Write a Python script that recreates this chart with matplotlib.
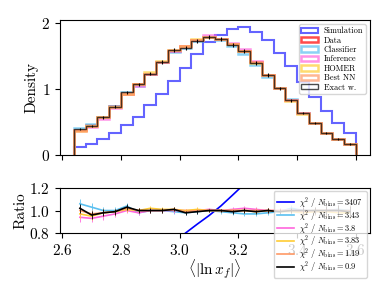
import numpy as np
import matplotlib
matplotlib.use("Agg")
import matplotlib.pyplot as plt

plt.rcParams["font.family"] = ["cmr10", "DejaVu Serif"]
plt.rcParams["mathtext.fontset"] = "cm"
plt.rcParams["axes.formatter.use_mathtext"] = True

# bin edges of <|ln x_f|>
edges = np.linspace(2.64, 3.60, 25)
centers = 0.5 * (edges[1:] + edges[:-1])

# densities
data = [0.38, 0.46, 0.58, 0.74, 0.92, 1.07, 1.23, 1.41, 1.57, 1.65, 1.74, 1.79,
        1.75, 1.68, 1.57, 1.41, 1.21, 1.02, 0.83, 0.64, 0.49, 0.33, 0.24, 0.17]
simulation = [0.12, 0.17, 0.24, 0.33, 0.45, 0.57, 0.75, 0.92, 1.12, 1.32, 1.53, 1.71,
              1.82, 1.91, 1.94, 1.86, 1.74, 1.55, 1.35, 1.11, 0.88, 0.66, 0.48, 0.33]
data_err = [0.015, 0.016, 0.018, 0.02, 0.022, 0.024, 0.025, 0.027, 0.028, 0.029, 0.03, 0.03,
            0.03, 0.03, 0.029, 0.027, 0.025, 0.023, 0.021, 0.018, 0.016, 0.013, 0.011, 0.009]

# ratios to data
r_classifier = [1.06, 1.03, 1.00, 1.00, 1.04, 0.98, 1.00, 1.00, 0.99, 0.98, 0.99, 1.00,
                0.99, 0.98, 0.97, 0.97, 0.98, 0.99, 1.02, 1.00, 0.99, 1.00, 1.01, 1.00]
r_inference = [0.94, 0.93, 0.95, 0.97, 1.00, 0.98, 1.00, 1.00, 1.00, 1.00, 1.00, 1.01,
               1.00, 1.01, 1.02, 1.01, 1.00, 1.00, 1.00, 1.00, 0.99, 1.00, 1.00, 0.99]
r_homer = [0.97, 0.95, 0.98, 0.99, 1.01, 1.00, 1.02, 1.01, 1.01, 1.00, 1.01, 1.00,
           1.00, 1.00, 1.00, 0.99, 1.00, 0.99, 0.99, 0.98, 0.99, 0.99, 0.98, 0.98]
r_best_nn = [1.00, 0.97, 0.98, 0.99, 1.02, 1.00, 1.00, 1.00, 1.01, 0.99, 1.00, 1.00,
             1.00, 1.00, 1.00, 1.00, 1.00, 1.00, 1.00, 0.99, 1.00, 1.00, 1.00, 1.00]
r_exact = [1.02, 0.96, 0.98, 0.99, 1.03, 1.00, 1.00, 1.00, 1.01, 0.98, 0.99, 1.00,
           1.00, 0.99, 1.00, 0.99, 1.00, 0.99, 1.00, 1.00, 1.00, 1.00, 1.00, 0.99]

labels = ["Classifier", "Inference", "HOMER", "Best NN", "Exact w."]
chi2 = ["3.43", "3.8", "3.83", "1.19", "0.9"]
chi2_sim = "3407"

data = np.array(data)
simulation = np.array(simulation)
data_err = np.array(data_err)
ratios = [np.array(r) for r in [r_classifier, r_inference, r_homer, r_best_nn, r_exact]]
colors = ["#5bc0f0", "#ff66dd", "#ffcc33", "#ff9966", "black"]

fig = plt.figure(figsize=(3.89, 2.92), dpi=100)
ax = fig.add_axes([0.154, 0.469, 0.797, 0.462])
axr = fig.add_axes([0.154, 0.202, 0.797, 0.154])

ax.hist(centers, bins=edges, weights=simulation, histtype="step", color="#2222ff",
        alpha=0.7, lw=1.5, label="Simulation")
ax.hist(centers, bins=edges, weights=data, histtype="step", color="red",
        alpha=0.7, lw=1.8, label="Data")
for r, c, lab in zip(ratios, colors, labels):
    lw = 1.0 if lab == "Exact w." else 1.8
    ax.hist(centers, bins=edges, weights=data * r, histtype="step", color=c,
            alpha=0.7, lw=lw, label=lab)
ax.errorbar(centers, data * ratios[-1], yerr=data_err, fmt="none", ecolor="black", elinewidth=0.8)

ax.set_xlim(2.592, 3.648)
ax.set_ylim(0, 2.04)
ax.set_yticks([0, 1, 2])
ax.tick_params(labelbottom=False, labelsize=11)
ax.set_ylabel("Density", fontsize=11, labelpad=2)
ax.legend(loc="upper right", fontsize=6.0, labelspacing=0.12, handletextpad=0.7,
          handleheight=0.6, borderpad=0.3)

axr.plot(centers, simulation / data, color="blue", lw=1.2,
         label=r"$\chi^2\ /\ N_{\rm bins} = %s$" % chi2_sim)
for r, c, s in zip(ratios, colors, chi2):
    axr.plot(centers, r, color=c, lw=1.2, label=r"$\chi^2\ /\ N_{\rm bins} = %s$" % s)
    axr.errorbar(centers, r, yerr=data_err / data, fmt="none", ecolor=c, elinewidth=0.6)
axr.set_xlim(2.592, 3.648)
axr.set_ylim(0.8, 1.2)
axr.set_xticks([2.6, 2.8, 3.0, 3.2, 3.4, 3.6])
axr.set_yticks([0.8, 1.0, 1.2])
axr.tick_params(labelsize=11)
axr.set_ylabel("Ratio", fontsize=11, labelpad=1)
axr.set_xlabel(r"$\langle|\ln x_f|\rangle$", fontsize=11, labelpad=0)
axr.legend(loc="upper right", fontsize=6.0, labelspacing=-0.25, borderaxespad=0.4,
           handletextpad=0.7)

fig.savefig("out.png", dpi=100)
